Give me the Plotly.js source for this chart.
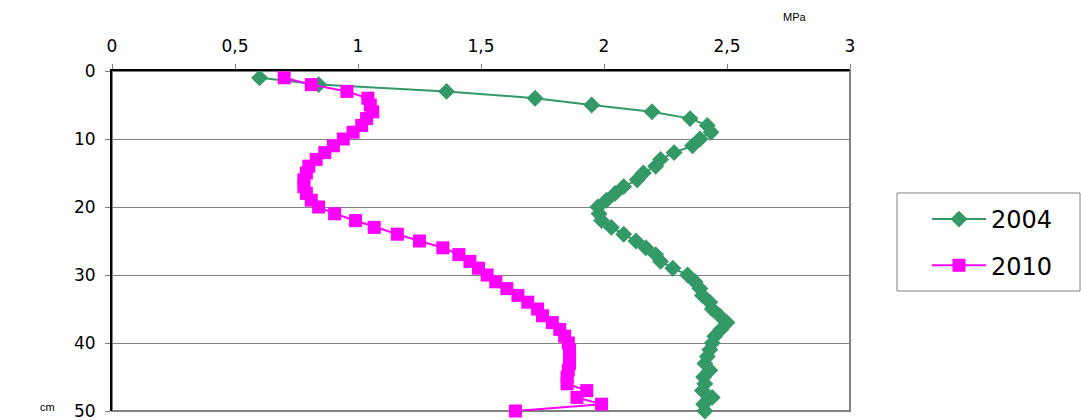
<!DOCTYPE html>
<html>
<head>
<meta charset="utf-8">
<script src="https://cdn.plot.ly/plotly-3.0.1.min.js"></script>
<style>html,body{margin:0;padding:0;background:#fff;}#chart{width:1081px;height:420px;}</style>
</head>
<body>
<div id="chart"></div>
<script>
const depth = [1,2,3,4,5,6,7,8,9,10,11,12,13,14,15,16,17,18,19,20,21,22,23,24,25,26,27,28,29,30,31,32,33,34,35,36,37,38,39,40,41,42,43,44,45,46,47,48,49,50];
const mpa2004 = [0.60,0.84,1.36,1.72,1.95,2.195,2.35,2.42,2.435,2.39,2.36,2.285,2.23,2.21,2.16,2.135,2.08,2.045,2.01,1.975,1.98,1.99,2.03,2.08,2.13,2.17,2.21,2.23,2.28,2.34,2.37,2.39,2.40,2.43,2.44,2.47,2.50,2.475,2.45,2.44,2.43,2.42,2.41,2.43,2.405,2.41,2.40,2.44,2.405,2.41];
const mpa2010 = [0.70,0.81,0.955,1.04,1.05,1.06,1.035,1.015,0.98,0.94,0.90,0.865,0.83,0.80,0.79,0.78,0.78,0.79,0.81,0.84,0.905,0.99,1.066,1.16,1.25,1.345,1.41,1.455,1.49,1.525,1.56,1.605,1.65,1.69,1.73,1.75,1.79,1.82,1.84,1.855,1.86,1.86,1.86,1.855,1.85,1.85,1.93,1.89,1.99,1.64];
const seriesNames = ['2004','2010'];
const xTicks = [0,0.5,1,1.5,2,2.5,3];
const yTicks = [0,10,20,30,40,50];

const traces = [
  {x: mpa2004, y: depth, name: seriesNames[0], legendgroup: 'a', type: 'scatter', mode: 'lines+markers',
   line: {color: '#339966', width: 2}, marker: {symbol: 'diamond', size: 13, color: '#339966'}, cliponaxis: false},
  {x: mpa2010, y: depth, name: seriesNames[1], legendgroup: 'b', type: 'scatter', mode: 'lines+markers',
   line: {color: '#FF00FF', width: 2}, marker: {symbol: 'square', size: 13, color: '#FF00FF'}, cliponaxis: false}
];

const W = 738, H = 340, L = 112, B = 411;
const px = v => (v - L) / W;
const py = v => (B - v) / H;

const layout = {
  width: 1081, height: 420,
  separators: ', ',
  font: {family: 'DejaVu Sans, sans-serif', size: 17, color: '#000'},
  paper_bgcolor: '#fff', plot_bgcolor: '#fff',
  margin: {l: 112, r: 231, t: 71, b: 9},
  showlegend: true,
  legend: {x: px(927), xanchor: 'left', y: py(197), yanchor: 'top',
           borderwidth: 0, bgcolor: 'rgba(0,0,0,0)', font: {size: 24}, itemwidth: 54,
           tracegroupgap: 12},
  xaxis: {side: 'top', range: [0, 3], tickvals: xTicks, ticks: 'outside', ticklen: 5,
          tickcolor: '#808080', showgrid: false, zeroline: false, showline: true,
          linecolor: '#000', linewidth: 2, tickfont: {size: 17}, ticklabelstandoff: 5,
          ticklabeloverflow: 'allow', fixedrange: true},
  yaxis: {range: [50, 0], tickvals: yTicks, ticks: 'outside', ticklen: 5,
          tickcolor: '#808080', showgrid: true, gridcolor: '#808080', gridwidth: 1,
          zeroline: false, showline: true, linecolor: '#000', linewidth: 2,
          tickfont: {size: 17}, ticklabelstandoff: 6, ticklabeloverflow: 'allow', fixedrange: true},
  shapes: [
    {type: 'rect', xref: 'paper', yref: 'paper', x0: 0, x1: 1, y0: 0, y1: 1,
     line: {color: '#808080', width: 2}, layer: 'below'},
    {type: 'rect', xref: 'paper', yref: 'paper', x0: px(897), x1: px(1080), y0: py(291), y1: py(193),
     line: {color: '#808080', width: 1}, fillcolor: 'rgba(0,0,0,0)'}
  ],
  annotations: [
    {text: 'MPa', xref: 'paper', yref: 'paper', x: px(795), y: py(17), xanchor: 'center', yanchor: 'middle',
     showarrow: false, font: {size: 11, family: 'Liberation Sans, Arial, sans-serif'}},
    {text: 'cm', xref: 'paper', yref: 'paper', x: px(47), y: py(407), xanchor: 'center', yanchor: 'middle',
     showarrow: false, font: {size: 11, family: 'Liberation Sans, Arial, sans-serif'}}
  ]
};

Plotly.newPlot('chart', traces, layout, {displayModeBar: false, staticPlot: true});
</script>
</body>
</html>
